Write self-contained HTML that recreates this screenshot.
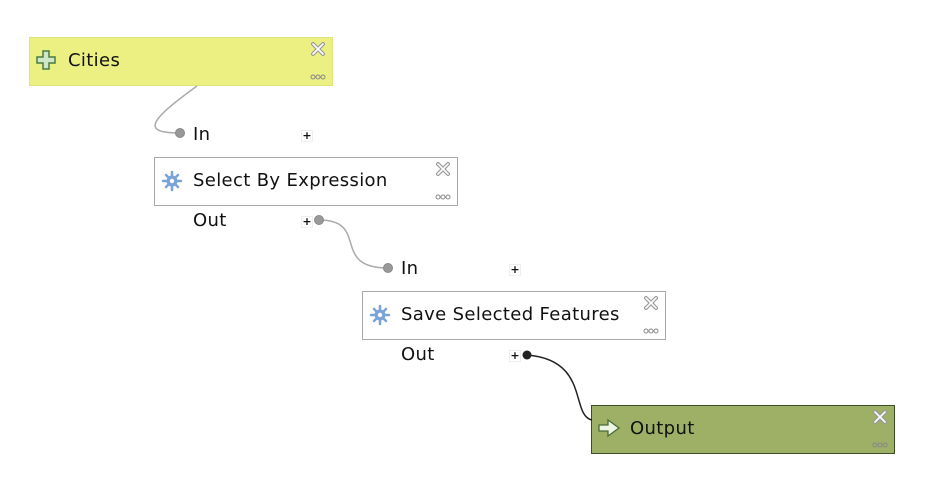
<!DOCTYPE html>
<html><head><style>
body{margin:0;width:943px;height:496px;background:#fff;overflow:hidden;position:relative;font-family:"DejaVu Sans","Liberation Sans",sans-serif;}
.box{position:absolute;width:304px;height:49px;box-sizing:border-box;}
.t{position:absolute;font-size:18px;color:#111;letter-spacing:0.35px;}
.lbl{position:absolute;font-size:18px;color:#111;letter-spacing:0.35px;}
.plus{position:absolute;width:10px;height:10px;font-size:11px;line-height:10px;text-align:center;color:#111;font-weight:bold;background:#fff;border:1px solid #eee;}
svg{position:absolute;left:0;top:0;}
</style></head><body>
<div class="box" style="left:29px;top:37px;background:#ecf083;border:1px solid #e2e47a;"></div>
<div class="box" style="left:154px;top:157px;background:#fff;border:1px solid #a8a8a8;"></div>
<div class="box" style="left:362px;top:291px;background:#fff;border:1px solid #a8a8a8;"></div>
<div class="box" style="left:591px;top:405px;background:#9db066;border:1px solid #3e4f28;"></div>
<div class="t" style="left:68px;top:50px;">Cities</div>
<div class="t" style="left:193px;top:170px;">Select By Expression</div>
<div class="t" style="left:401px;top:304px;">Save Selected Features</div>
<div class="t" style="left:630px;top:418px;">Output</div>
<div class="lbl" style="left:193px;top:124px;">In</div>
<div class="lbl" style="left:193px;top:210px;">Out</div>
<div class="lbl" style="left:401px;top:258px;">In</div>
<div class="lbl" style="left:401px;top:344px;">Out</div>
<div class="plus" style="left:301px;top:130px;">+</div>
<div class="plus" style="left:301px;top:216px;">+</div>
<div class="plus" style="left:509px;top:264px;">+</div>
<div class="plus" style="left:509px;top:350px;">+</div>
<svg width="943" height="496">
<path d="M197 86 C150 120,140 133,180 133" fill="none" stroke="#aaa" stroke-width="1.5"/>
<circle cx="180" cy="133" r="4.5" fill="#999" stroke="#888"/>
<path d="M319 220 C370 220,330 268,388 268" fill="none" stroke="#aaa" stroke-width="1.5"/>
<circle cx="319" cy="220" r="4.5" fill="#999" stroke="#888"/>
<circle cx="388" cy="268" r="4.5" fill="#999" stroke="#888"/>
<path d="M527 355 C590 360,570 415,592 420" fill="none" stroke="#222" stroke-width="1.5"/>
<circle cx="527" cy="355" r="4.5" fill="#222"/>
<path d="M43 51h6v6h6v6h-6v6h-6v-6h-6v-6h6z" fill="#cfe7c7" stroke="#4a7a42" stroke-width="1.5"/>
<g stroke="#7aa3d8" stroke-width="2.5" stroke-linecap="round">
<path d="M172 172v18M163 181h18M166 175l12 12M178 175l-12 12"/>
<path d="M380 306v18M371 315h18M374 309l12 12M386 309l-12 12"/></g>
<g fill="#7aa3d8"><circle cx="172" cy="181" r="5.5"/><circle cx="380" cy="315" r="5.5"/></g>
<g fill="#fff"><circle cx="172" cy="181" r="2.2"/><circle cx="380" cy="315" r="2.2"/></g>
<path d="M599 425h9v-5l11 8-11 8v-5h-9z" fill="#eef5e4" stroke="#4a6b35" stroke-width="1.3"/>
<g stroke="#999" stroke-width="4" stroke-linecap="round"><path d="M313 44l10 10M323 44l-10 10M438 164l10 10M448 164l-10 10M646 298l10 10M656 298l-10 10M875 412l10 10M885 412l-10 10"/></g>
<g stroke="#fff" stroke-width="1.6" stroke-linecap="round"><path d="M313 44l10 10M323 44l-10 10M438 164l10 10M448 164l-10 10M646 298l10 10M656 298l-10 10M875 412l10 10M885 412l-10 10"/></g>
<g fill="none" stroke="#888" stroke-width="1"><circle cx="313" cy="77" r="2"/><circle cx="318" cy="77" r="2"/><circle cx="323" cy="77" r="2"/>
<circle cx="438" cy="197" r="2"/><circle cx="443" cy="197" r="2"/><circle cx="448" cy="197" r="2"/>
<circle cx="646" cy="331" r="2"/><circle cx="651" cy="331" r="2"/><circle cx="656" cy="331" r="2"/>
<circle cx="875" cy="445" r="2"/><circle cx="880" cy="445" r="2"/><circle cx="885" cy="445" r="2"/></g>
</svg>
</body></html>
